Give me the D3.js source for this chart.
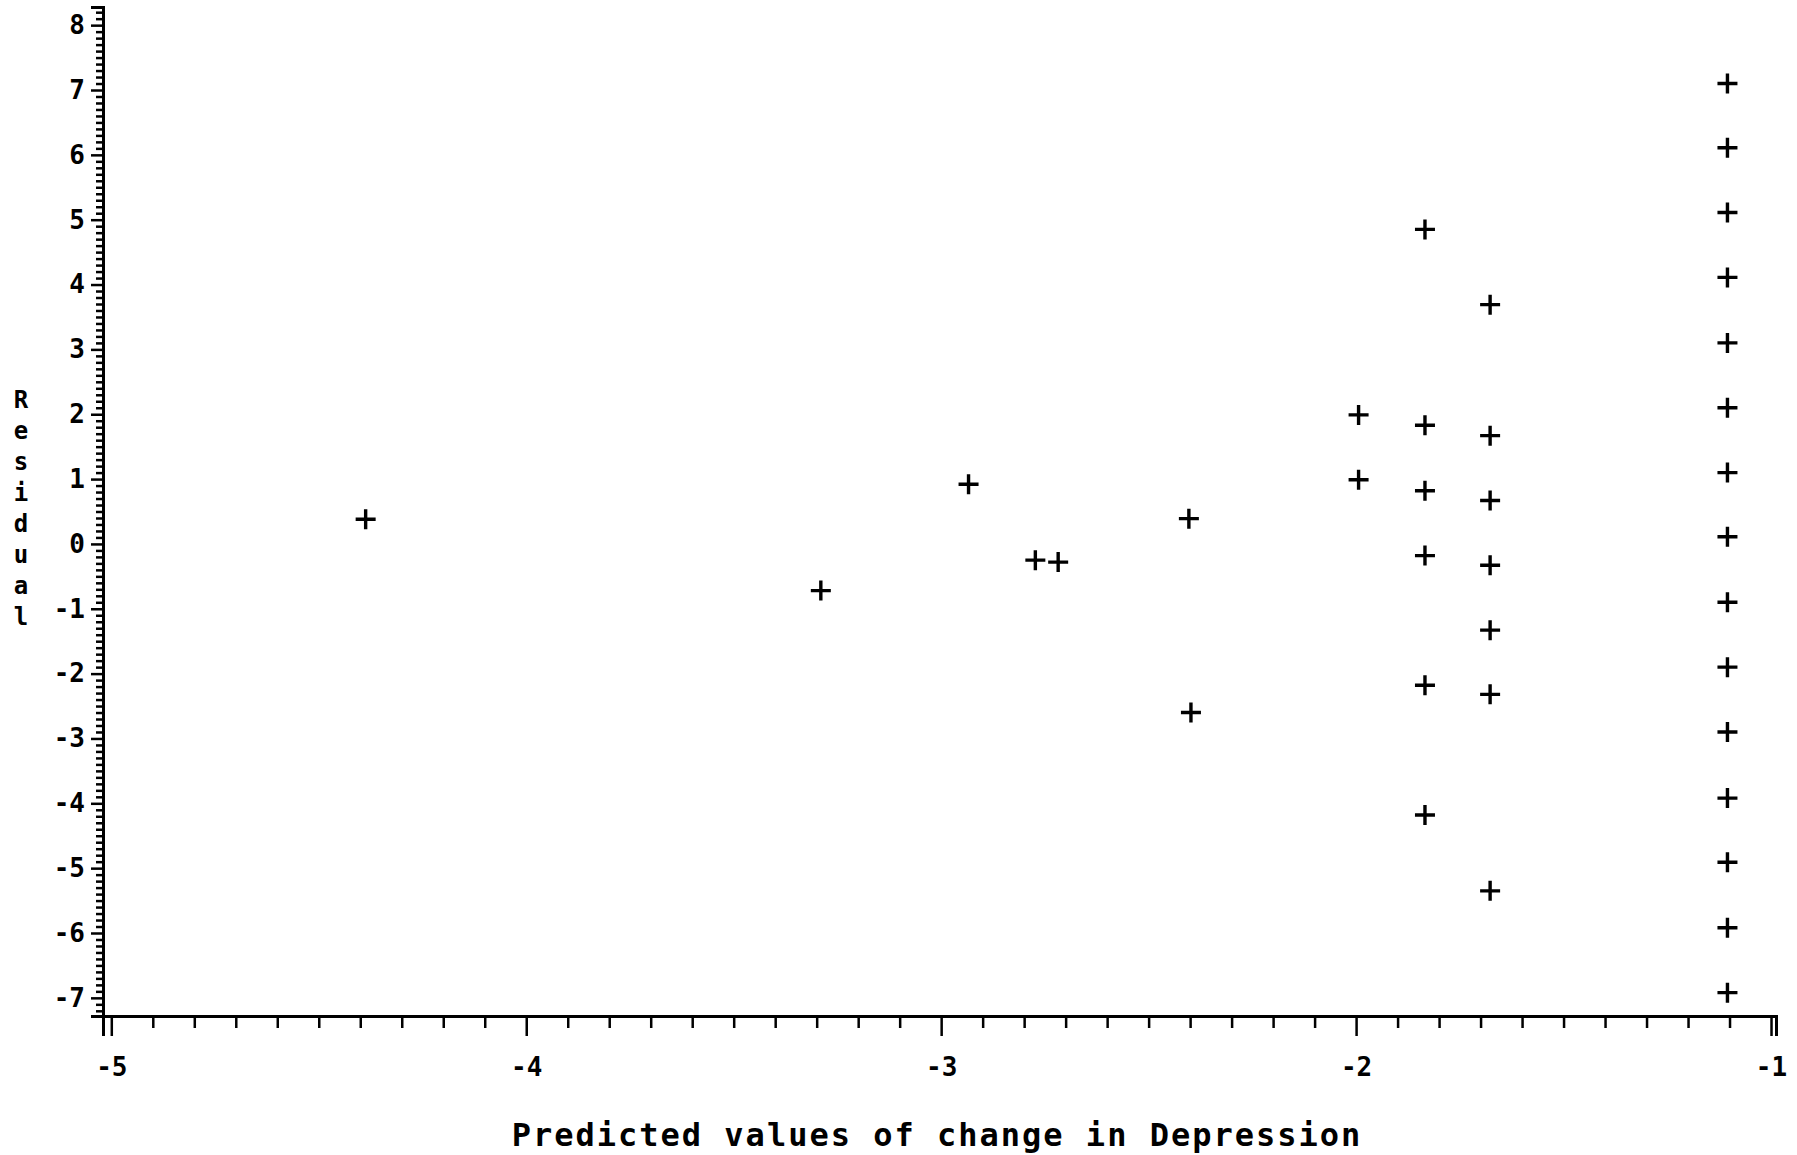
<!DOCTYPE html>
<html>
<head>
<meta charset="utf-8">
<script src="https://cdn.jsdelivr.net/npm/d3@7"></script>
<style>
  html, body { margin: 0; padding: 0; background: #fff; }
  svg { display: block; }
  .lbl { font-family: "DejaVu Sans Mono", monospace; font-weight: bold; fill: #000; }
</style>
</head>
<body>
<svg id="chart" width="1797" height="1155"></svg>
<script>
// Predicted value of change in depression for each observation
const predicted = [
  -4.387, -3.29, -2.934, -2.773, -2.718, -2.403, -2.398,
  -1.994, -1.994,
  -1.834, -1.834, -1.834, -1.834, -1.834, -1.834,
  -1.677, -1.677, -1.677, -1.677, -1.677, -1.677, -1.677,
  -1.105, -1.105, -1.105, -1.105, -1.105, -1.105, -1.105, -1.105,
  -1.105, -1.105, -1.105, -1.105, -1.105, -1.105, -1.105
];
// Residual for each observation
const residual = [
  0.38, -0.72, 0.92, -0.25, -0.28, 0.39, -2.60,
  1.99, 0.99,
  4.85, 1.83, 0.82, -0.18, -2.18, -4.18,
  3.69, 1.67, 0.67, -0.33, -1.33, -2.32, -5.35,
  7.10, 6.11, 5.11, 4.11, 3.10, 2.10, 1.10, 0.11,
  -0.90, -1.90, -2.90, -3.92, -4.91, -5.92, -6.92
];
const xTickValues = [-5, -4, -3, -2, -1];
const yTickValues = [8, 7, 6, 5, 4, 3, 2, 1, 0, -1, -2, -3, -4, -5, -6, -7];
const xTitle = "Predicted values of change in Depression";
const yTitle = "Residual";

const svg = d3.select("#chart");

const x = d3.scaleLinear().domain([-5.02, -0.988]).range([103, 1776]);
const y = d3.scaleLinear().domain([-7.28, 8.28]).range([1016, 7]);

const axisX = 1016, axisY = 103;

// minor ticks every 0.1
const xMinor = d3.range(-50, -9).map(d => d / 10).filter(v => !xTickValues.includes(v));
const yMinor = d3.range(-72, 83).map(d => d / 10).filter(v => !yTickValues.includes(v));

function styleAxis(g) {
  g.selectAll("path.domain").attr("stroke", "#000").attr("stroke-width", 3);
  g.selectAll(".tick line").attr("stroke", "#000").attr("stroke-width", 2.5);
}

// X axis
const gxMinor = svg.append("g").attr("transform", `translate(0,${axisX})`)
  .call(d3.axisBottom(x).tickValues(xMinor).tickSize(12).tickFormat(""));
styleAxis(gxMinor);
const gx = svg.append("g").attr("transform", `translate(0,${axisX})`)
  .call(d3.axisBottom(x).tickValues(xTickValues).tickSize(20).tickPadding(22)
    .tickFormat(d => String(d)));
styleAxis(gx);
gx.selectAll(".tick text").attr("class", "lbl").style("font-size", "26px")
  .attr("font-family", null).attr("font-size", null);

// Y axis
const gyMinor = svg.append("g").attr("transform", `translate(${axisY},0)`)
  .call(d3.axisLeft(y).tickValues(yMinor).tickSize(7).tickFormat(""));
styleAxis(gyMinor);
const gy = svg.append("g").attr("transform", `translate(${axisY},0)`)
  .call(d3.axisLeft(y).tickValues(yTickValues).tickSize(12).tickPadding(6)
    .tickFormat(d => String(d)));
styleAxis(gy);
gy.selectAll(".tick text").attr("class", "lbl").style("font-size", "26px")
  .attr("font-family", null).attr("font-size", null);

// Plus-sign markers
const pts = svg.append("g");
predicted.forEach((p, i) => {
  const cx = x(p), cy = y(residual[i]);
  pts.append("path")
    .attr("d", `M${cx - 10},${cy}H${cx + 10}M${cx},${cy - 10}V${cy + 10}`)
    .attr("stroke", "#000").attr("stroke-width", 3.4).attr("fill", "none");
});

// X axis title
svg.append("text").attr("class", "lbl")
  .attr("x", 937).attr("y", 1146).attr("text-anchor", "middle")
  .style("font-size", "32px").style("letter-spacing", "2px")
  .text(xTitle);

// Y axis title, letters stacked vertically
svg.append("g").selectAll("text").data(yTitle.split("")).join("text")
  .attr("class", "lbl")
  .attr("x", 21).attr("y", (d, i) => 408 + i * 31)
  .attr("text-anchor", "middle")
  .style("font-size", "24px")
  .text(d => d);
</script>
</body>
</html>
